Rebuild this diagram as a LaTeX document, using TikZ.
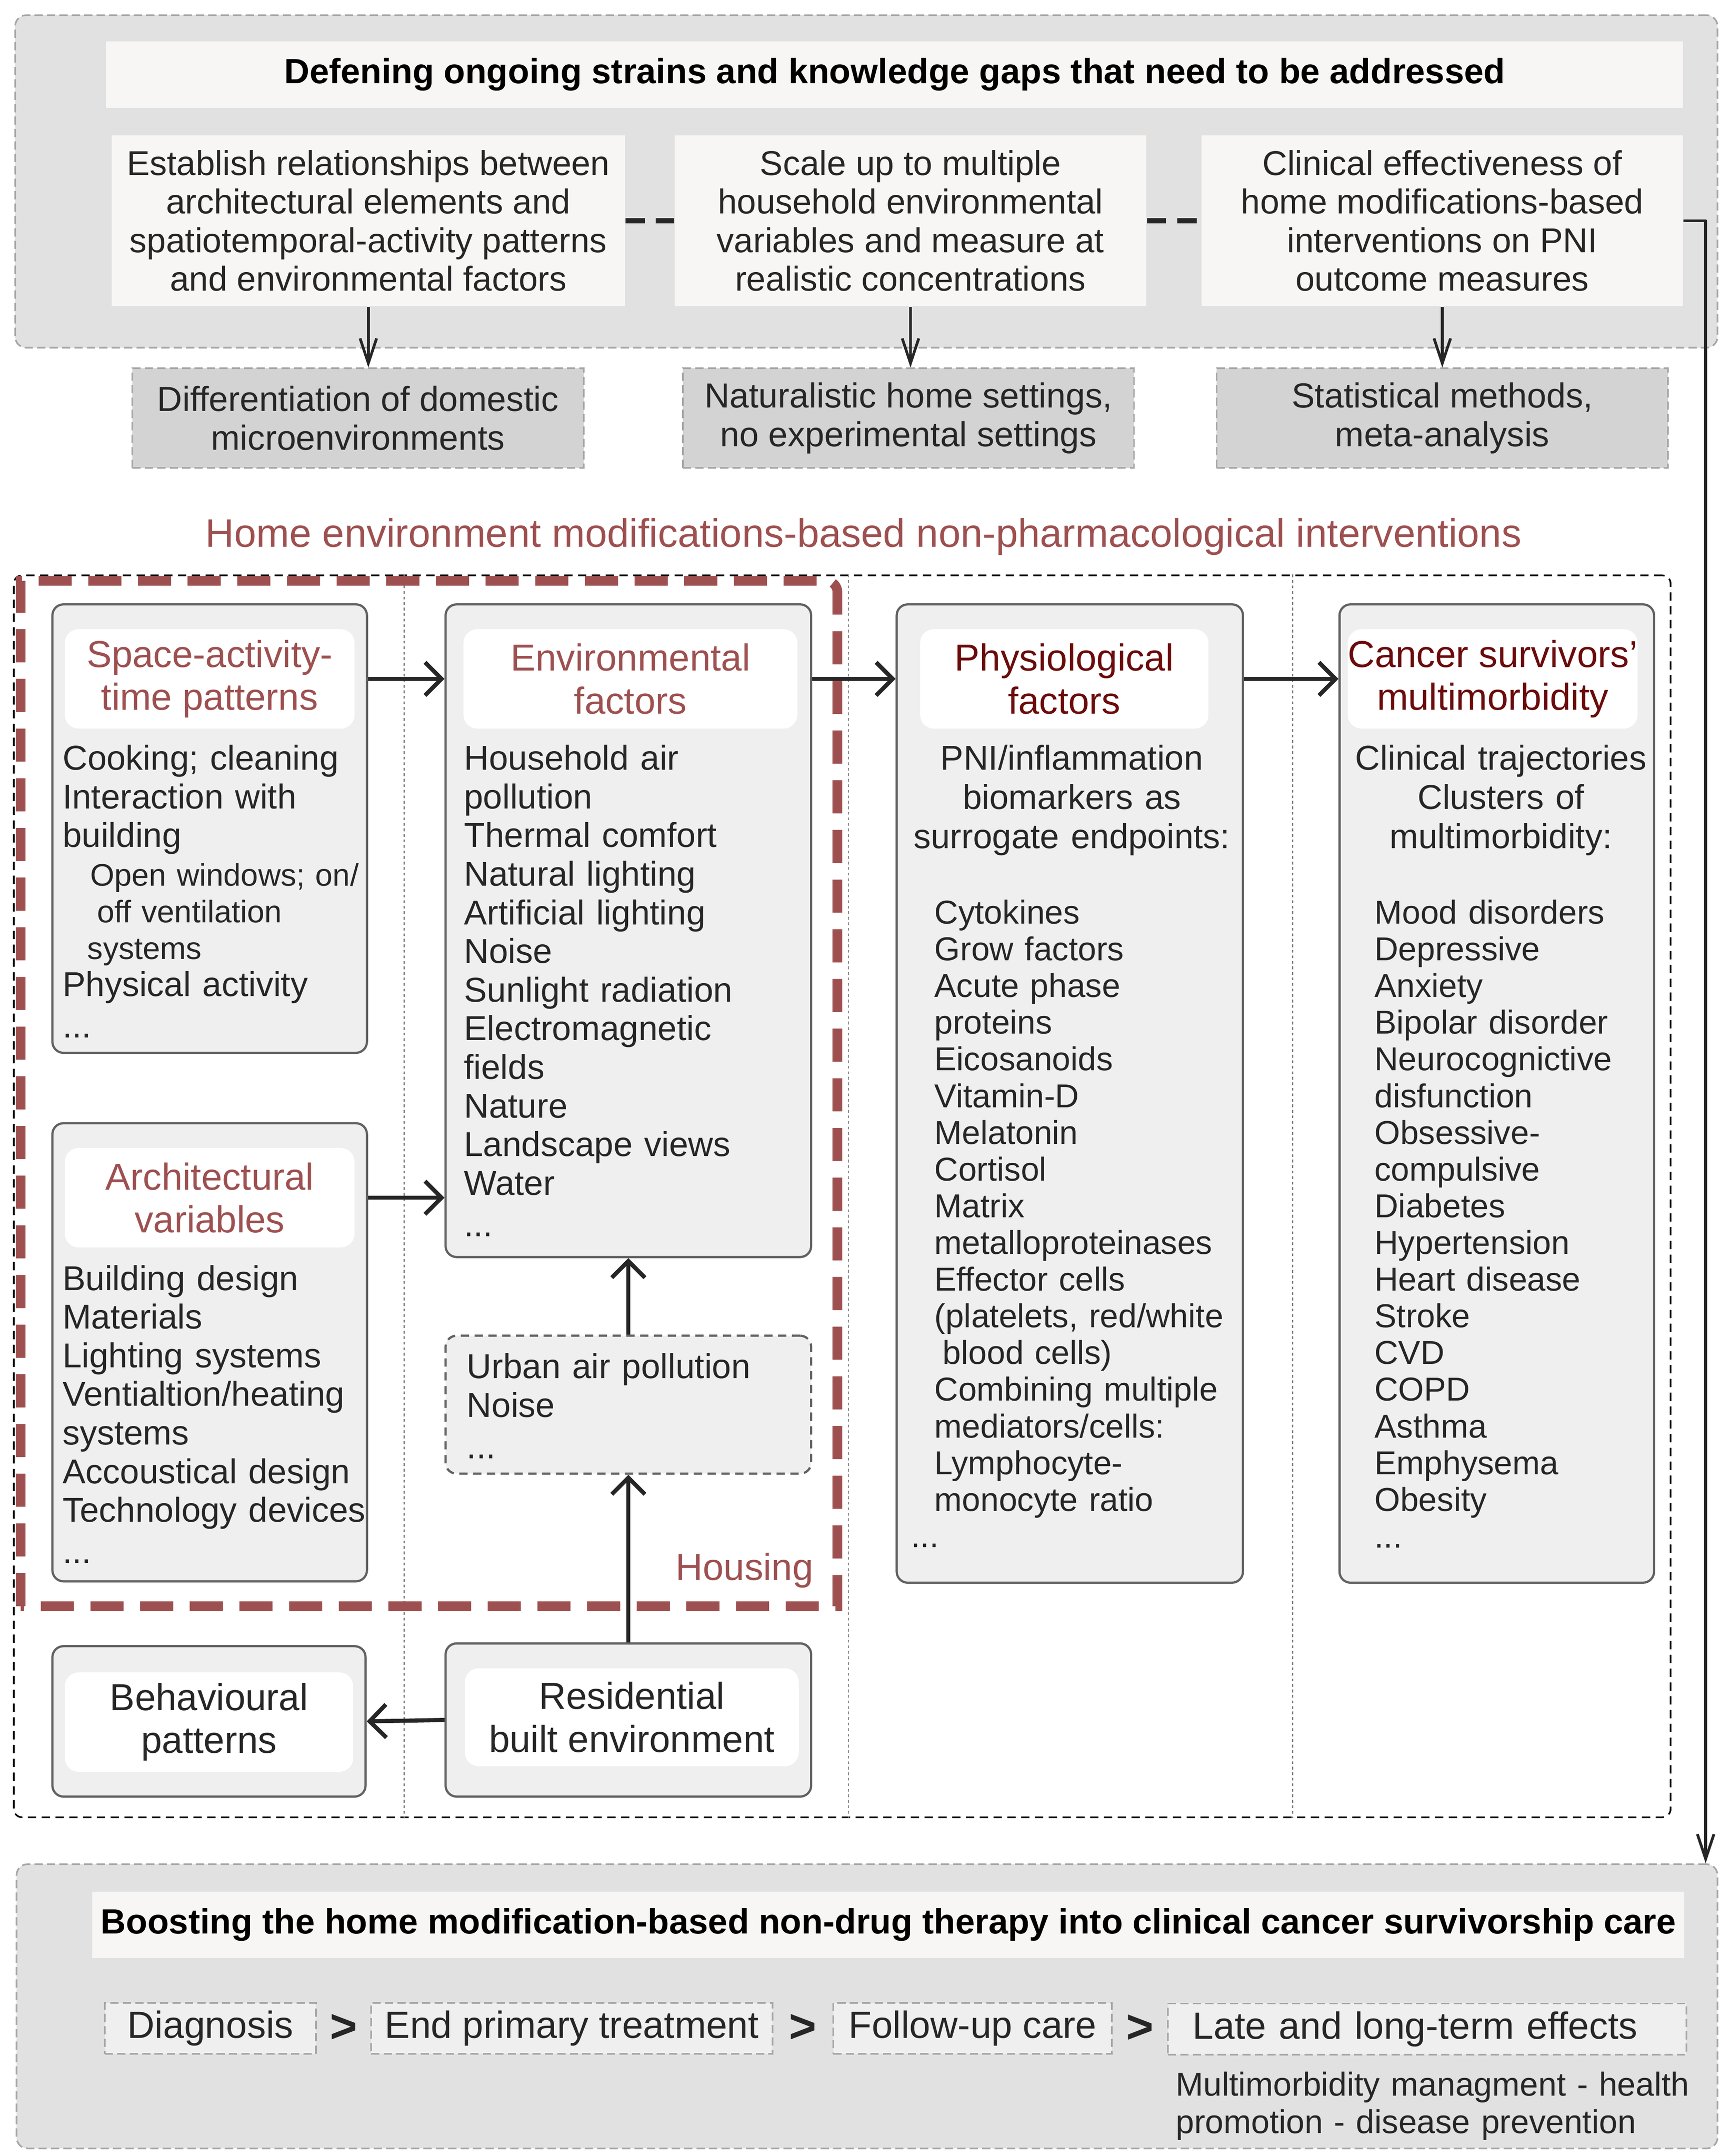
\documentclass[tikz,border=0pt]{standalone}
\usepackage{fontspec}
\setmainfont{Liberation Sans}
\usetikzlibrary{arrows.meta,positioning}

\definecolor{panelgray}{HTML}{E1E1E1}
\definecolor{offwhite}{HTML}{F8F6F5}
\definecolor{methodgray}{HTML}{D3D3D3}
\definecolor{boxgray}{HTML}{EFEFEF}
\definecolor{boxline}{HTML}{616161}
\definecolor{dashgray}{HTML}{A6A6A6}
\definecolor{txt}{HTML}{262626}
\definecolor{housered}{HTML}{9E5050}
\definecolor{darkred}{HTML}{6B0B0B}

\newcommand{\setfs}[2]{\fontsize{#1pt}{#2pt}\selectfont}

\begin{document}
\begin{tikzpicture}[x=0.5pt, y=-0.5pt, text=txt,
    panel/.style = {draw=dashgray, fill=panelgray, line width=0.6pt,
                    dash pattern=on 3pt off 1.5pt, rounded corners=4pt, inner sep=0pt},
    bar/.style = {fill=offwhite, text=black, inner sep=0pt, font=\setfs{12.7}{14}\bfseries},
    gapbox/.style = {fill=offwhite, inner sep=0pt, minimum height=62pt, align=center,
                     font=\setfs{12.5}{14}},
    method/.style = {draw=dashgray, fill=methodgray, line width=0.6pt,
                     dash pattern=on 3pt off 1.5pt, inner sep=0pt, minimum height=36pt,
                     align=center, font=\setfs{12.6}{14}},
    factor/.style = {draw=boxline, fill=boxgray, line width=0.8pt, rounded corners=4pt,
                     inner sep=0pt},
    urban/.style = {factor, dash pattern=on 3pt off 2pt},
    head/.style = {fill=white, rounded corners=5pt, inner sep=0pt, minimum height=36pt,
                   align=center, font=\setfs{13.6}{15.5}},
    list/.style = {anchor=base west, inner sep=0pt, text width=130pt, align=left,
                   font=\setfs{12.5}{14}},
    sublist/.style = {list, font=\setfs{11.3}{13.3}},
    plist/.style = {list, font=\setfs{12}{13.3}},
    lead/.style = {anchor=base, inner sep=0pt, text width=124pt, align=center,
                   font=\setfs{12.5}{14.2}},
    stage/.style = {draw=dashgray, fill=boxgray, line width=0.6pt,
                    dash pattern=on 3pt off 1.5pt, inner xsep=0pt, inner ysep=0pt,
                    minimum height=18.5pt, font=\setfs{13.7}{15}},
    chevron/.style = {inner sep=0pt, font=\setfs{17}{17}\bfseries},
    flow/.style = {draw=txt, line width=1.5pt,
                   -{Straight Barb[length=6pt,width=12pt]}},
    down/.style = {draw=txt, line width=1pt, line join=round,
                   -{Straight Barb[length=9pt,width=6pt]}},
    gaplink/.style = {draw=txt, line width=2pt, dash pattern=on 7pt off 4pt},
    frame/.style = {draw=black, line width=0.6pt, dash pattern=on 3pt off 2pt,
                    rounded corners=3pt, inner sep=0pt},
    sep/.style = {draw=gray, line width=0.4pt, dash pattern=on 1pt off 1pt},
    housing/.style = {draw=housered, line width=3.5pt, dash pattern=on 12pt off 6pt}]

  \useasboundingbox (0,0) rectangle (1254,1562.5);

  % knowledge gaps
  \node[panel, minimum width=617pt, minimum height=120.5pt] (GAPS) at (628,131.5) {};
  \node[bar, minimum width=571.5pt, minimum height=24pt] (GAPS_T) at (648.5,54)
    {Defening ongoing strains and knowledge gaps that need to be addressed};

  \foreach \i/\cx/\w/\gtxt/\mcx/\mtxt in {
      0/267/186/{Establish relationships between\\architectural elements and\\spatiotemporal-activity patterns\\and environmental factors}/259.5/{Differentiation of domestic\\microenvironments},
      1/660/171/{Scale up to multiple\\household environmental\\variables and measure at\\realistic concentrations}/658.5/{Naturalistic home settings,\\no experimental settings},
      2/1045.5/174.5/{Clinical effectiveness of\\home modifications-based\\interventions on PNI\\outcome measures}/1045.5/{Statistical methods,\\meta-analysis}} {
    \node[gapbox, minimum width=\w pt] (GAP_\i) at (\cx,160) {\gtxt};
    \node[method, minimum width=163.5pt] (MET_\i) at (\mcx,303) {\mtxt};
    \draw[down] (GAP_\i.south) -- (GAP_\i.south |- MET_\i.north);
  }

  \foreach \i/\j in {0/1, 1/2}
    \draw[gaplink] (GAP_\i.east) -- (GAP_\j.west);

  % interventions
  \node[font=\setfs{14.4}{16}, text=housered, inner sep=0pt] (HEMI) at (626,389)
    {Home environment modifications-based non-pharmacological interventions};

  \node[frame, minimum width=600.5pt, minimum height=450pt] (FRAME) at (610.5,867) {};
  \foreach \sx in {293, 615, 937}
    \draw[sep] (FRAME.north -| \sx,0) -- (FRAME.south -| \sx,0);

  \node[factor, minimum width=114pt, minimum height=162.5pt] (SAT) at (152,600.5) {};
  \node[head, minimum width=105pt, text=housered] (SAT_H) at (152,492)
    {Space-activity-\\time patterns};
  \node[list] (SAT_L) at (45,558) {Cooking; cleaning\\Interaction with\\building};
  \node[sublist] (SAT_S) at (63,642)
    {\hspace*{1pt}Open windows; on/\\\hspace*{3.5pt}off ventilation\\systems};
  \node[list] (SAT_M) at (45,722) {Physical activity\\[1pt]...};

  \node[factor, minimum width=114pt, minimum height=166pt] (ARCH) at (152,980) {};
  \node[head, minimum width=105pt, text=housered] (ARCH_H) at (152,868)
    {Architectural\\variables};
  \node[list] (ARCH_L) at (45,935) {Building design\\Materials\\Lighting systems\\
    Ventialtion/heating\\systems\\Accoustical design\\Technology devices\\[1pt]...};

  \node[factor, minimum width=132.5pt, minimum height=236.5pt] (ENV) at (455.5,674.5) {};
  \node[head, minimum width=121pt, text=housered] (ENV_H) at (457,492)
    {Environmental\\factors};
  \node[list] (ENV_L) at (336,558) {Household air\\pollution\\Thermal comfort\\
    Natural lighting\\Artificial lighting\\Noise\\Sunlight radiation\\Electromagnetic\\
    fields\\Nature\\Landscape views\\Water\\[1pt]...};

  \node[urban, minimum width=132.5pt, minimum height=50pt] (URB) at (455.5,1018) {};
  \node[list] (URB_L) at (338,999) {Urban air pollution\\Noise\\[1pt]...};

  \node[factor, minimum width=132.5pt, minimum height=55.5pt] (RES) at (455.5,1246.5) {};
  \node[head, minimum width=121pt, minimum height=35.5pt] (RES_H) at (458,1244.5)
    {Residential\\built environment};

  \node[factor, minimum width=113.5pt, minimum height=54.5pt] (BEH) at (151.5,1247.5) {};
  \node[head, minimum width=104.5pt] (BEH_H) at (151.5,1248) {Behavioural\\patterns};

  \node[factor, minimum width=125.5pt, minimum height=354.5pt] (PHY) at (775.5,792.5) {};
  \node[head, minimum width=104.5pt, text=darkred] (PHY_H) at (771.5,492)
    {Physiological\\factors};
  \node[lead] (PHY_T) at (777,558) {PNI/inflammation\\biomarkers as\\surrogate endpoints:};
  \node[plist] (PHY_L) at (677,669.5) {Cytokines\\Grow factors\\Acute phase\\proteins\\
    Eicosanoids\\Vitamin-D\\Melatonin\\Cortisol\\Matrix\\metalloproteinases\\
    Effector cells\\(platelets, red/white\\\hspace*{3pt}blood cells)\\Combining multiple\\
    mediators/cells:\\Lymphocyte-\\monocyte ratio};
  \node[plist] (PHY_M) at (660,1121.5) {...};

  \node[factor, minimum width=114pt, minimum height=354.5pt] (CAN) at (1085,792.5) {};
  \node[head, minimum width=105pt, text=darkred] (CAN_H) at (1082,492)
    {Cancer survivors’\\multimorbidity};
  \node[lead] (CAN_T) at (1088,558) {Clinical trajectories\\Clusters of\\multimorbidity:};
  \node[plist] (CAN_L) at (996,669.5) {Mood disorders\\Depressive\\Anxiety\\
    Bipolar disorder\\Neurocognictive\\disfunction\\Obsessive-\\compulsive\\Diabetes\\
    Hypertension\\Heart disease\\Stroke\\CVD\\COPD\\Asthma\\Emphysema\\Obesity\\...};

  \draw[flow] (SAT_H.east -| SAT.east) -- (SAT_H.east -| ENV.west);
  \draw[flow] (ENV_H.east -| ENV.east) -- (ENV_H.east -| PHY.west);
  \draw[flow] (PHY_H.east -| PHY.east) -- (PHY_H.east -| CAN.west);
  \draw[flow] (ARCH_H.east -| ARCH.east) -- (ARCH_H.east -| ENV.west);
  \draw[flow] (URB.north) -- (ENV.south);
  \draw[flow] (RES.north) -- (URB.south);
  \draw[flow] (RES.west) -- (BEH.east);

  \draw[housing] (15,1164) -- (15,421) -- (599,421) to[out=0,in=90] (607,429)
    -- (607,1164) -- cycle;
  \node[font=\setfs{13.6}{15.5}, text=housered, anchor=base east, inner sep=0pt]
    (HOUSING) at (590,1145) {Housing};

  % survivorship care
  \node[panel, minimum width=616.5pt, minimum height=103pt] (BOOST) at (628.5,1454) {};
  \node[bar, minimum width=577pt, minimum height=24pt] (BOOST_T) at (644,1395)
    {Boosting the home modification-based non-drug therapy into clinical cancer survivorship care};

  \draw[down] (GAP_2.east) -- ++(16,0) coordinate (TURN) -- (TURN |- BOOST.north);

  \foreach \nm/\cx/\w/\stxt in {DIAG/152.5/76.5/Diagnosis, PRIM/414.5/145.5/End primary treatment,
      FOLL/705/101/Follow-up care}
    \node[stage, minimum width=\w pt] (\nm) at (\cx,1470) {\stxt};
  \node[stage, anchor=west, inner xsep=9pt, text width=170pt, align=left] (LATE)
    at (846,1470.5) {Late and long-term effects};

  \foreach \a/\b in {DIAG/PRIM, PRIM/FOLL, FOLL/LATE}
    \path (\a.east) -- node[chevron] (GT_\a) {>} (\b.west);

  \node[anchor=base west, inner sep=0pt, text width=190pt, align=left,
        font=\setfs{12}{13.5}] (NOTE) at (852,1519)
    {Multimorbidity managment - health\\promotion - disease prevention};

\end{tikzpicture}
\end{document}
